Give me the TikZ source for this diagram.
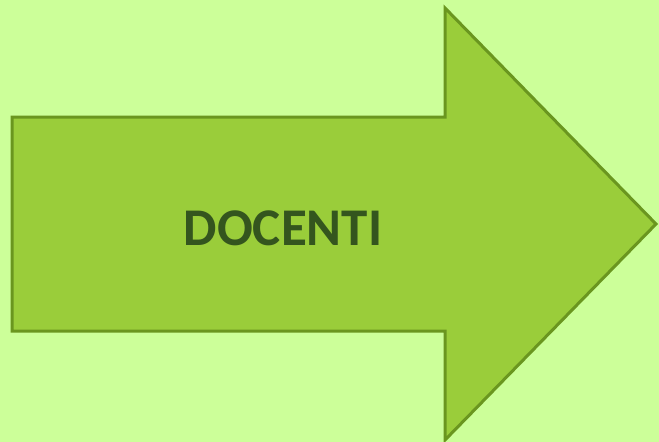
\documentclass[tikz,border=0pt]{standalone}
\usepackage{xcolor}
\usepackage{fontspec}
\setmainfont{Carlito}
\usepackage{tikz}

\definecolor{bggreen}{HTML}{CCFF99}
\definecolor{arrowfill}{HTML}{9ACD3A}
\definecolor{arrowline}{HTML}{6A961F}
\definecolor{textgreen}{HTML}{34551E}

\begin{document}
\begin{tikzpicture}[x=1pt, y=1pt]
        \fill[bggreen] (0, 0) rectangle (659, -442);
        \useasboundingbox (0, 0) rectangle (659, -442);

        \draw[fill=arrowfill, draw=arrowline, line width=3pt, line join=miter]
            (12, -117) -- (445, -117) -- (445, -8) -- (656, -224)
            -- (445, -440) -- (445, -331) -- (12, -331) -- cycle;

        \node[text=textgreen, font=\fontsize{53}{58}\selectfont\bfseries] (docenti) at (283, -228) {DOCENTI};
    \end{tikzpicture}
\end{document}
